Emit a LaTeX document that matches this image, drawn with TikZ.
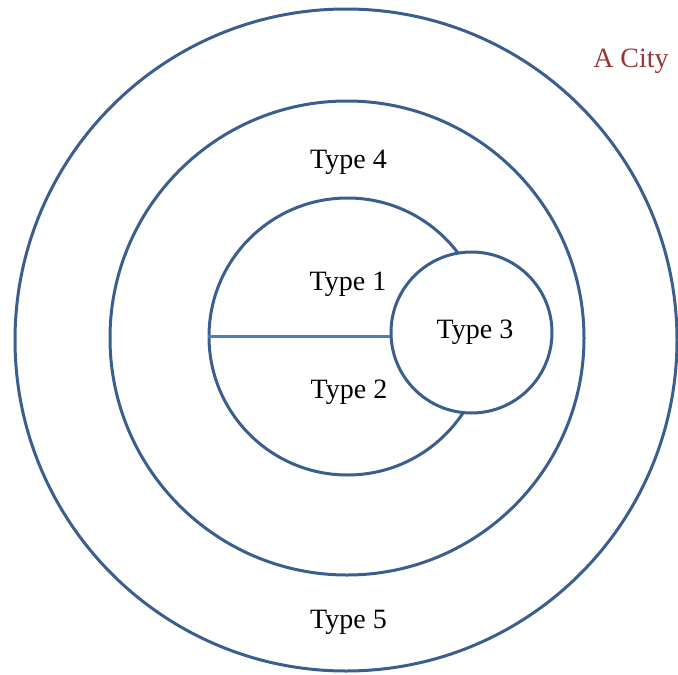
\documentclass[tikz,border=0pt]{standalone}
\usepackage{fontspec}
\setmainfont{Liberation Serif}
\definecolor{ring}{HTML}{3A5F8F}
\definecolor{divline}{HTML}{4A7EBB}
\definecolor{cityred}{HTML}{953735}
\begin{document}
\begin{tikzpicture}[x=1pt,y=-1pt,
  ringc/.style={circle,draw=ring,line width=3pt,inner sep=0pt},
  lbl/.style={font=\fontsize{28}{32}\selectfont,inner sep=0pt,anchor=base}]
\useasboundingbox (0,0) rectangle (678,675);
\node[ringc,minimum size=662pt] (outer) at (346,340) {};
\node[ringc,minimum size=474pt] (middle) at (347,338) {};
\node[ringc,minimum size=277pt] (inner) at (347.5,336.5) {};
\node[ringc,fill=white,minimum size=161pt] (t3) at (471.5,332.5) {};
\coordinate (divL) at (inner.west);
\draw[divline,line width=3pt] (divL) -- (t3.west |- divL);
\node[lbl] (type4) at (348.5,168.3) {Type 4};
\node[lbl] (type1) at (348,290) {Type 1};
\node[lbl] (type2) at (349,398.3) {Type 2};
\node[lbl] (type3) at (475,338.3) {Type 3};
\node[lbl] (type5) at (348.5,628) {Type 5};
\node[lbl,text=cityred] (city) at (631,67.3) {A City};
\end{tikzpicture}
\end{document}
